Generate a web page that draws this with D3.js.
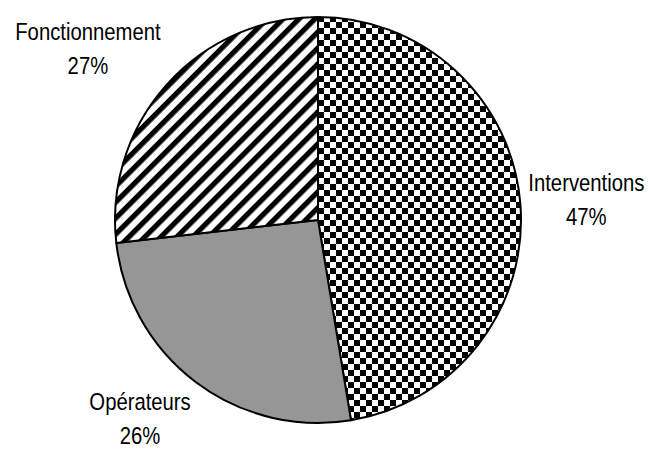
<!DOCTYPE html>
<html>
<head>
<meta charset="utf-8">
<script src="https://cdn.jsdelivr.net/npm/d3@7"></script>
<style>
  body { margin: 0; background: #fff; }
  text { font-family: "Liberation Sans", Arial, sans-serif; fill: #000; }
</style>
</head>
<body>
<div id="chart"></div>
<script>
var w = 652,
    h = 449;

// data
var categories = ["Interventions", "Opérateurs", "Fonctionnement"];
var values = [47.4, 25.8, 26.8];
var fills = ["url(#checker)", "#969696", "url(#stripes)"];

var cx = 318, cy = 220, r = 203;

var svg = d3.select("#chart").append("svg")
    .attr("width", w)
    .attr("height", h);

var defs = svg.append("defs");

var checker = defs.append("pattern")
    .attr("id", "checker")
    .attr("patternUnits", "userSpaceOnUse")
    .attr("width", 12)
    .attr("height", 12);
checker.append("rect").attr("width", 12).attr("height", 12).attr("fill", "#fff");
checker.append("rect").attr("width", 6).attr("height", 6).attr("fill", "#000");
checker.append("rect").attr("x", 6).attr("y", 6).attr("width", 6).attr("height", 6).attr("fill", "#000");

var stripes = defs.append("pattern")
    .attr("id", "stripes")
    .attr("patternUnits", "userSpaceOnUse")
    .attr("width", 11.3)
    .attr("height", 11.3)
    .attr("patternTransform", "rotate(45)");
stripes.append("rect").attr("width", 11.3).attr("height", 11.3).attr("fill", "#fff");
stripes.append("rect").attr("width", 5.2).attr("height", 11.3).attr("fill", "#000");

var pie = d3.pie()
    .sort(null)
    .value(function (d) { return d; });

var arc = d3.arc()
    .innerRadius(0)
    .outerRadius(r);

var arcs = pie(values);

var g = svg.append("g")
    .attr("transform", "translate(" + cx + "," + cy + ")");

g.selectAll("path")
    .data(arcs)
    .enter()
    .append("path")
    .attr("d", arc)
    .attr("fill", function (d, i) { return fills[i]; })
    .attr("stroke", "#000")
    .attr("stroke-width", 2)
    .attr("stroke-linejoin", "round");

// labels, placed next to the slice edge like excel does
var fontSize = 24, capH = 17.5, lineGap = 34, gap = 8, vpad = 6, descent = 5;

arcs.forEach(function (d, i) {
    var a = (d.startAngle + d.endAngle) / 2;
    var s = Math.sin(a), c = Math.cos(a);
    var px = (r + gap) * s, py = -(r + gap) * c;

    var lbl = g.append("g");
    var t1 = lbl.append("text")
        .attr("text-anchor", "middle")
        .style("font-size", fontSize + "px")
        .text(categories[i]);
    var t2 = lbl.append("text")
        .attr("text-anchor", "middle")
        .style("font-size", fontSize + "px")
        .text(Math.round(values[i]) + "%");

    var sx = 0.845;
    var bw = Math.max(t1.node().getComputedTextLength(), t2.node().getComputedTextLength()) * sx;
    var bh = lineGap + capH;

    var left = s >= 0 ? px : px - bw;
    var t = Math.max(0, Math.min(1, 0.5 + 0.75 * c));
    var top = py - bh * t - vpad * (2 * t - 1);
    // keep the label inside the picture
    top = Math.min(top, h - cy - bh - descent);

    var mx = left + bw / 2;
    t1.attr("transform", "translate(" + mx + "," + (top + capH) + ") scale(" + sx + ",1)");
    t2.attr("transform", "translate(" + mx + "," + (top + bh) + ") scale(" + sx + ",1)");
});
</script>
</body>
</html>
